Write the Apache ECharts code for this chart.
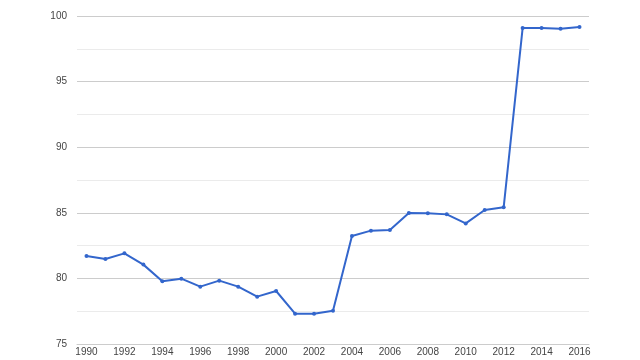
<!DOCTYPE html>
<html><head><meta charset="utf-8">
<script src="https://cdn.jsdelivr.net/npm/echarts@6/dist/echarts.min.js"></script>
<style>html,body{margin:0;padding:0;background:#fff}#c{width:640px;height:360px}</style>
</head><body><div id="c"></div>
<script>
const years = ['1990','1991','1992','1993','1994','1995','1996','1997','1998','1999','2000','2001','2002','2003','2004','2005','2006','2007','2008','2009','2010','2011','2012','2013','2014','2015','2016'];
const values = [81.71,81.48,81.91,81.05,79.78,79.98,79.37,79.83,79.37,78.61,79.04,77.31,77.31,77.54,83.23,83.64,83.69,84.98,84.96,84.88,84.19,85.21,85.42,99.08,99.08,99.03,99.16];
const yTicks = {min:75, max:100, interval:5};
const chart = echarts.init(document.getElementById('c'), null, {renderer:'canvas'});
chart.setOption({
  animation:false,
  grid:{left:77,right:51,top:16,bottom:16,containLabel:false},
  xAxis:{type:'category',data:years,boundaryGap:true,
    axisLine:{show:true,lineStyle:{color:'#cccccc'}},axisTick:{show:false},
    axisLabel:{interval:1,color:'#444',fontFamily:'Liberation Sans, Arial',fontSize:10,margin:3}},
  yAxis:{type:'value',min:yTicks.min,max:yTicks.max,interval:yTicks.interval,
    axisLine:{show:false},axisTick:{show:false},
    axisLabel:{color:'#444',fontFamily:'Liberation Sans, Arial',fontSize:10,margin:10},
    splitLine:{lineStyle:{color:'#cccccc'}},
    minorTick:{show:false,splitNumber:2},
    minorSplitLine:{show:true,lineStyle:{color:'#ebebeb'}}},
  series:[{type:'line',data:values,symbol:'circle',symbolSize:4,showSymbol:true,
    itemStyle:{color:'#3366cc'},lineStyle:{color:'#3366cc',width:2}}]
});
</script></body></html>
